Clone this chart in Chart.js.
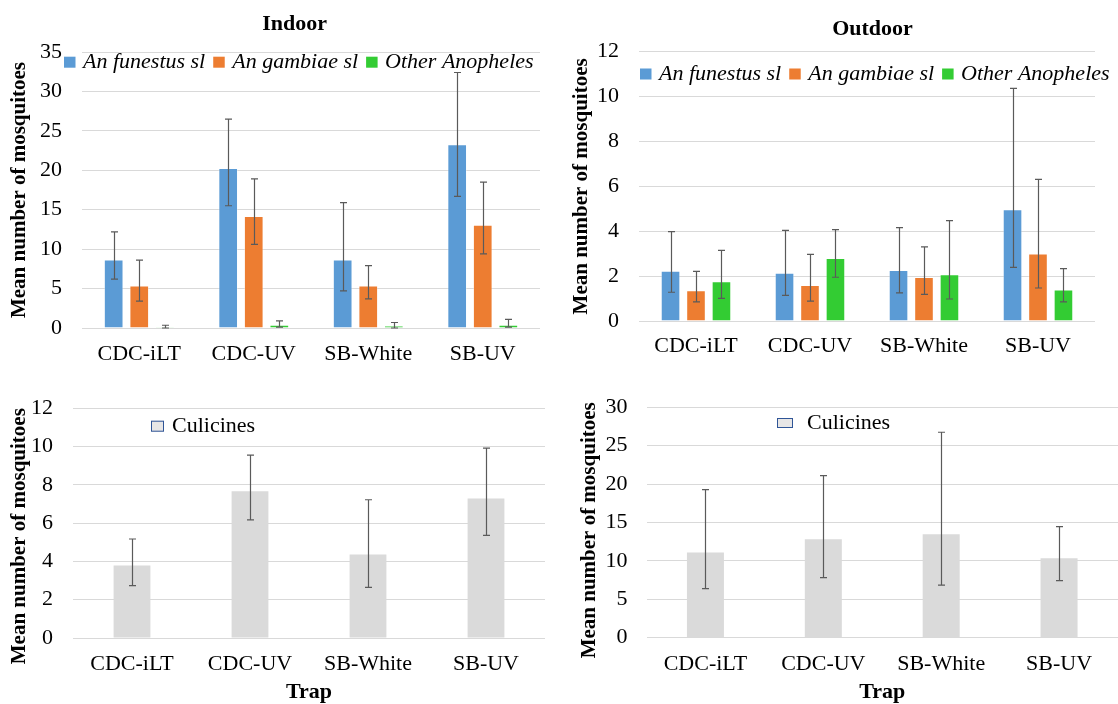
<!DOCTYPE html>
<html>
<head>
<meta charset="utf-8">
<script src="https://cdn.jsdelivr.net/npm/chart.js@4.4.1/dist/chart.umd.min.js"></script>
<style>
  html, body { margin: 0; padding: 0; background: #fff; }
  body { width: 1118px; height: 704px; position: relative; overflow: hidden; }
  canvas { position: absolute; }
</style>
</head>
<body>
<canvas id="indoor" width="559" height="375" style="left:0;top:0"></canvas>
<canvas id="outdoor" width="559" height="375" style="left:559px;top:0"></canvas>
<canvas id="culIn" width="559" height="329" style="left:0;top:375px"></canvas>
<canvas id="culOut" width="559" height="329" style="left:559px;top:375px"></canvas>
<script>
const traps = ['CDC-iLT', 'CDC-UV', 'SB-White', 'SB-UV'];
const seriesNames = ['An funestus sl', 'An gambiae sl', 'Other Anopheles'];

// indoor anophelines: mean, lower and upper end of the error bar
const inFunestus = [8.7, 20.3, 8.7, 23.3];
const inFunestusLo = [6.2, 15.5, 4.7, 16.7];
const inFunestusHi = [12.2, 26.5, 15.9, 32.4];
const inGambiae = [5.4, 14.2, 5.4, 13.1];
const inGambiaeLo = [3.4, 10.6, 3.7, 9.4];
const inGambiaeHi = [8.6, 18.9, 7.9, 18.5];
const inOther = [0.1, 0.4, 0.3, 0.4];
const inOtherLo = [0.0, 0.1, 0.0, 0.1];
const inOtherHi = [0.35, 0.9, 0.7, 1.1];

// outdoor anophelines
const outFunestus = [2.24, 2.15, 2.27, 4.98];
const outFunestusLo = [1.28, 1.14, 1.25, 2.39];
const outFunestusHi = [3.98, 4.04, 4.16, 10.37];
const outGambiae = [1.37, 1.6, 1.96, 3.01];
const outGambiaeLo = [0.85, 0.89, 1.19, 1.47];
const outGambiaeHi = [2.21, 2.97, 3.3, 6.31];
const outOther = [1.77, 2.81, 2.08, 1.4];
const outOtherLo = [1.01, 1.95, 0.98, 0.85];
const outOtherHi = [3.15, 4.07, 4.47, 2.33];

// culicines, indoor (left) and outdoor (right)
const culIn = [3.78, 7.66, 4.36, 7.29];
const culInLo = [2.74, 6.17, 2.64, 5.36];
const culInHi = [5.17, 9.55, 7.22, 9.91];
const culOut = [11.08, 12.81, 13.47, 10.34];
const culOutLo = [6.39, 7.83, 6.84, 7.42];
const culOutHi = [19.28, 21.1, 26.74, 14.46];

Chart.defaults.font.family = '"Liberation Serif", "Times New Roman", serif';
Chart.defaults.color = '#000';

const colors = ['#5B9BD5', '#ED7D31', '#33CC33'];
const grey = '#DADADA';

// error bars drawn from the y scale of each chart
const errorBars = {
  id: 'errorBars',
  afterDatasetsDraw(chart) {
    const ctx = chart.ctx;
    const y = chart.scales.y;
    ctx.save();
    ctx.strokeStyle = '#5a5a5a';
    ctx.lineWidth = 1.2;
    chart.data.datasets.forEach((ds, i) => {
      chart.getDatasetMeta(i).data.forEach((bar, j) => {
        const top = y.getPixelForValue(ds.errHi[j]);
        const bot = y.getPixelForValue(ds.errLo[j]);
        const x = Math.round(bar.x) + 0.5;
        ctx.beginPath();
        ctx.moveTo(x, top); ctx.lineTo(x, bot);
        ctx.moveTo(x - 3.5, top); ctx.lineTo(x + 3.5, top);
        ctx.moveTo(x - 3.5, bot); ctx.lineTo(x + 3.5, bot);
        ctx.stroke();
      });
    });
    ctx.restore();
  }
};

// legend laid over the plot area, as in the original figure
const inlineLegend = {
  id: 'inlineLegend',
  afterDraw(chart, args, o) {
    const ctx = chart.ctx;
    ctx.save();
    ctx.font = o.font;
    ctx.textBaseline = 'middle';
    let x = o.x;
    chart.data.datasets.forEach(ds => {
      ctx.fillStyle = o.boxFill || ds.backgroundColor;
      ctx.fillRect(x, o.y - o.boxH / 2, o.boxW, o.boxH);
      if (o.boxStroke) {
        ctx.strokeStyle = o.boxStroke;
        ctx.lineWidth = 1;
        ctx.strokeRect(x + 0.5, o.y - o.boxH / 2 + 0.5, o.boxW - 1, o.boxH - 1);
      }
      x += o.boxW + o.textGap;
      ctx.fillStyle = '#000';
      ctx.fillText(ds.label, x, o.y);
      x += ctx.measureText(ds.label).width + o.itemGap;
    });
    ctx.restore();
  }
};

// the chart title is centred on the whole figure, not the plot
const titleShift = {
  id: 'titleShift',
  afterLayout(chart, args, o) {
    const t = chart.titleBlock;
    if (t && o.dx) {
      t.left += o.dx;
      t.right += o.dx;
    }
  }
};

function anoDatasets(means, los, his) {
  return means.map((m, i) => ({
    label: seriesNames[i],
    data: m,
    errLo: los[i],
    errHi: his[i],
    backgroundColor: colors[i],
    borderColor: 'rgba(255,255,255,0.35)',
    borderWidth: 1
  }));
}

function culDataset(m, lo, hi) {
  return [{ label: 'Culicines', data: m, errLo: lo, errHi: hi, backgroundColor: grey, borderWidth: 0 }];
}

function buildChart(id, o) {
  return new Chart(document.getElementById(id), {
    type: 'bar',
    data: { labels: traps, datasets: o.datasets },
    plugins: [errorBars, inlineLegend, titleShift],
    options: {
      responsive: false,
      animation: false,
      layout: { padding: o.padding },
      datasets: { bar: { categoryPercentage: o.catPct, barPercentage: o.barPct } },
      plugins: {
        legend: { display: false },
        tooltip: { enabled: false },
        title: o.title
          ? { display: true, text: o.title, font: { size: 22, weight: 'bold' }, color: '#000', padding: o.titlePad }
          : { display: false },
        titleShift: { dx: o.titleDx || 0 },
        inlineLegend: o.legend
      },
      scales: {
        x: {
          grid: { display: false, drawTicks: false },
          border: { display: false },
          ticks: { font: { size: 22 }, color: '#000', padding: o.xTickPad, maxRotation: 0, autoSkip: false },
          title: o.xTitle
            ? { display: true, text: o.xTitle, font: { size: 22, weight: 'bold', lineHeight: 1 }, color: '#000', padding: { top: 0, bottom: 1 } }
            : { display: false },
          afterFit: s => { s.height = o.xHeight; }
        },
        y: {
          min: 0,
          max: o.yMax,
          ticks: { stepSize: o.yStep, font: { size: 22 }, color: '#000', padding: o.yTickPad },
          grid: { color: '#D9D9D9', lineWidth: 1, drawTicks: false },
          border: { display: false },
          title: {
            display: true,
            text: 'Mean number of mosquitoes' + ' '.repeat(o.yTitleSpaces || 0),
            font: { size: 21, weight: 'bold' },
            color: '#000',
            padding: { top: o.yTitlePad, bottom: 0 }
          },
          afterFit: s => { s.width = o.yWidth; }
        }
      }
    }
  });
}

const anoLegend = { boxW: 11.5, boxH: 11, textGap: 7.5, itemGap: 8, font: 'italic 22px "Liberation Serif", serif' };
const culLegend = { boxFill: '#E7E6E6', boxStroke: '#2F5597', itemGap: 0, font: '22px "Liberation Serif", serif' };

buildChart('indoor', {
  datasets: anoDatasets([inFunestus, inGambiae, inOther], [inFunestusLo, inGambiaeLo, inOtherLo], [inFunestusHi, inGambiaeHi, inOtherHi]),
  title: 'Indoor', titlePad: { top: 11.3, bottom: 14.3 }, titleDx: 24.6,
  padding: { left: 0, right: 19, top: 0, bottom: 0 },
  catPct: 0.67, barPct: 0.77,
  xHeight: 47, xTickPad: 13,
  yWidth: 82, yTickPad: 20, yTitlePad: 7.4, yMax: 35, yStep: 5,
  legend: Object.assign({ x: 64, y: 62.2 }, anoLegend)
});

buildChart('outdoor', {
  datasets: anoDatasets([outFunestus, outGambiae, outOther], [outFunestusLo, outGambiaeLo, outOtherLo], [outFunestusHi, outGambiaeHi, outOtherHi]),
  title: 'Outdoor', titlePad: { top: 16.5, bottom: 8.8 }, titleDx: 45.5,
  padding: { left: 0, right: 23, top: 0, bottom: 0 },
  catPct: 0.67, barPct: 0.77,
  xHeight: 54, xTickPad: 12.5,
  yWidth: 80, yTickPad: 20, yTitlePad: 10.4, yMax: 12, yStep: 2,
  legend: Object.assign({ x: 81, y: 74 }, anoLegend)
});

buildChart('culIn', {
  datasets: culDataset(culIn, culInLo, culInHi),
  padding: { left: 0, right: 14, top: 31, bottom: 0 },
  catPct: 0.4, barPct: 0.78,
  xHeight: 66, xTickPad: 12.8, xTitle: 'Trap',
  yWidth: 73, yTickPad: 20, yTitlePad: 7.4, yTitleSpaces: 5, yMax: 12, yStep: 2,
  legend: Object.assign({ x: 151, y: 51.2, boxW: 13, boxH: 11, textGap: 8 }, culLegend)
});

buildChart('culOut', {
  datasets: culDataset(culOut, culOutLo, culOutHi),
  padding: { left: 0, right: 0, top: 20, bottom: 0 },
  catPct: 0.4, barPct: 0.785,
  xHeight: 66.3, xTickPad: 13, xTitle: 'Trap',
  yWidth: 87.5, yTickPad: 19, yTitlePad: 18.4, yTitleSpaces: 3, yMax: 30, yStep: 5,
  legend: Object.assign({ x: 218, y: 48, boxW: 16, boxH: 10, textGap: 14 }, culLegend)
});
</script>
</body>
</html>
